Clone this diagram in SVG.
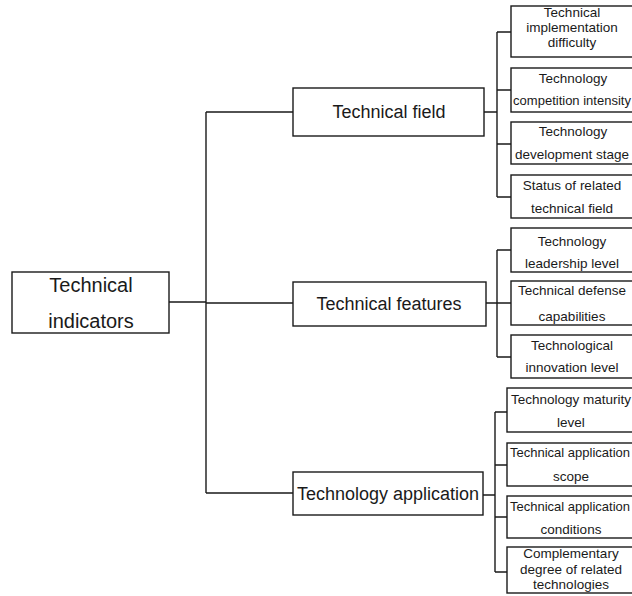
<svg xmlns="http://www.w3.org/2000/svg" width="632" height="596" viewBox="0 0 632 596">
<style>
rect{fill:#fff;stroke:#1a1a1a;stroke-width:1.4}
.c{fill:none;stroke:#1a1a1a;stroke-width:1.4}
text{font-family:"Liberation Sans",Arial,sans-serif;fill:#1a1a1a;text-anchor:middle}
.r{font-size:20px}
.m{font-size:18px}
.l{font-size:13.5px}
.t{font-size:13px}
</style>
<rect x="0" y="0" width="632" height="596" style="fill:#fff;stroke:none"/>
<g id="connectors">
<path class="c" d="M169,302 H206 M206,112 V493 M206,112 H293 M206,303 H293 M206,493 H293"/>
<path class="c" d="M484,112 H497 M497,32 V197 M497,32 H511 M497,90 H511 M497,144 H511 M497,197 H511"/>
<path class="c" d="M486,303 H497 M497,250 V357 M497,250 H511 M497,303 H511 M497,357 H511"/>
<path class="c" d="M483,495 H495 M495,412 V572 M495,412 H507 M495,465 H507 M495,517 H507 M495,572 H507"/>
</g>
<g id="root"><rect x="12" y="272" width="157" height="61"/><text class="r" x="91" y="292">Technical</text><text class="r" x="91" y="328">indicators</text></g>
<g id="technical-field"><rect x="293" y="88" width="191" height="48"/><text class="m" x="389" y="118">Technical field</text></g>
<g id="technical-features"><rect x="293" y="282" width="193" height="44"/><text class="m" x="389" y="310">Technical features</text></g>
<g id="technology-application"><rect x="293" y="472" width="190" height="43"/><text class="m" x="388" y="500">Technology application</text></g>
<g id="leaf1"><rect x="511" y="6" width="130" height="51"/><text class="l" x="572" y="17">Technical</text><text class="l" x="572" y="32">implementation</text><text class="l" x="572" y="47">difficulty</text></g>
<g id="leaf2"><rect x="511" y="68" width="130" height="44"/><text class="l" x="573" y="83">Technology</text><text class="t" x="572" y="105">competition intensity</text></g>
<g id="leaf3"><rect x="511" y="122" width="130" height="42"/><text class="l" x="573" y="136">Technology</text><text class="l" x="572" y="159">development stage</text></g>
<g id="leaf4"><rect x="511" y="175" width="130" height="43"/><text class="l" x="572" y="190">Status of related</text><text class="l" x="572" y="213">technical field</text></g>
<g id="leaf5"><rect x="511" y="228" width="130" height="44"/><text class="l" x="572" y="246">Technology</text><text class="l" x="572" y="268">leadership level</text></g>
<g id="leaf6"><rect x="511" y="281" width="130" height="44"/><text class="l" x="572" y="295">Technical defense</text><text class="l" x="572" y="321">capabilities</text></g>
<g id="leaf7"><rect x="511" y="335" width="130" height="43"/><text class="l" x="572" y="350">Technological</text><text class="l" x="572" y="372">innovation level</text></g>
<g id="leaf8"><rect x="507" y="388" width="134" height="44"/><text class="l" x="571" y="404">Technology maturity</text><text class="l" x="571" y="427">level</text></g>
<g id="leaf9"><rect x="507" y="443" width="134" height="43"/><text class="t" x="570" y="457">Technical application</text><text class="l" x="571" y="481">scope</text></g>
<g id="leaf10"><rect x="507" y="496" width="134" height="42"/><text class="t" x="570" y="511">Technical application</text><text class="l" x="571" y="534">conditions</text></g>
<g id="leaf11"><rect x="507" y="547" width="134" height="46"/><text class="l" x="571" y="558">Complementary</text><text class="l" x="571" y="574">degree of related</text><text class="l" x="571" y="589">technologies</text></g>
</svg>
